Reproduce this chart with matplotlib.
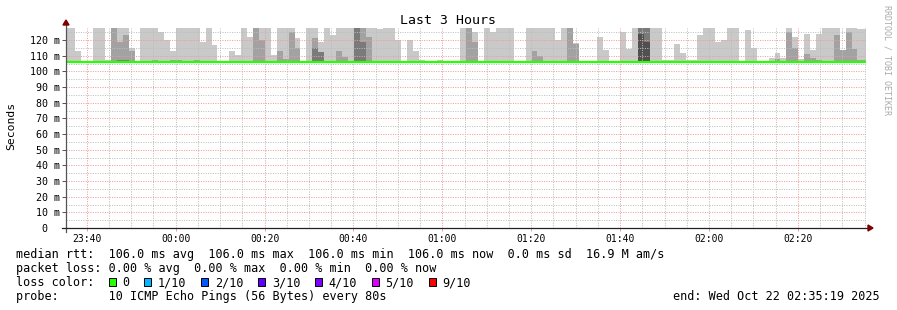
import numpy as np
import matplotlib
matplotlib.use("Agg")
import matplotlib.pyplot as plt
from matplotlib.patches import Rectangle, Polygon

N = None
# ---- data: smoke bands (top value in ms of each grey band, per 80 s step) ----
smoke_light = [
    130, 130, 113, N, N, 130, 130, 107.5, 130, 130,
    130, 115, N, 130, 130, 130, 125, 120, 113, 130,
    130, 130, 130, 119, 130, 117, N, N, 113, 110.5,
    130, 122, 130, 130, 130, 110.5, 130, 130, 130, 121,
    N, 130, 130, 118.5, 130, 123, 130, 130, 130, 130,
    130, 130, 130, 127, 130, 130, 120, N, 120, 113,
    107.5, N, N, 107, N, N, N, 130, 130, 125,
    N, 130, 125.4, 130, 130, 130, N, N, 130, 130,
    130, 130, 130, 120, 130, 130, 118, N, N, N,
    121.9, 113.5, N, N, 125, 114, 130, 130, 130, 130,
    130, 107, 107, 117.6, 112, 107, 107, 123, 130, 130,
    119, 120, 130, 130, N, 126.7, 115, N, 106.5, 108.6,
    111.8, 108.6, 130, 122, 108, 124, 113.8, 124, 130, 130,
    130, 113.8, 130, 130, 127.3, 127.3,
]
smoke_medium = [
    N, N, N, N, N, N, N, N, 130, 119,
    123, 113, N, N, N, 107, N, N, 107, 107,
    N, N, 107, N, N, N, N, N, N, N,
    N, N, 130, 120, N, N, 113, 108, 125, 115,
    N, N, 121, 112.5, N, N, 112.7, 109.5, N, 130,
    130, 122, N, N, N, N, N, N, N, N,
    N, N, N, N, N, N, N, N, 130, 118.5,
    N, N, N, N, N, N, N, N, N, 113,
    110, N, N, N, N, 130, 117.6, N, N, N,
    N, N, N, N, N, N, N, 130, 130, N,
    N, N, N, N, N, N, N, N, N, N,
    N, N, N, N, N, N, N, N, N, N,
    108, N, 125, 115, N, 111, 108.5, 107, N, N,
    123.4, 113.8, 125, 114.4, 107, 107,
]
dark_steps = [9, 10, 42, 43, 49, 50, 97, 98]
dark_values = [107, 107, 115, 112.5, 130, 118.8, 130, 130]
darkest_steps = [97, 98]
darkest_values = [123.7, 118.7]
median_rtt = 106.0

x_tick_labels = ["23:40", "00:00", "00:20", "00:40", "01:00", "01:20", "01:40", "02:00", "02:20"]
y_values = [0, 10, 20, 30, 40, 50, 60, 70, 80, 90, 100, 110, 120]
y_labels = ["0  ", "10 m", "20 m", "30 m", "40 m", "50 m", "60 m", "70 m", "80 m", "90 m",
            "100 m", "110 m", "120 m"]

title = "Last 3 Hours"
y_title = "Seconds"
watermark = "RRDTOOL / TOBI OETIKER"
line_rtt = "median rtt:  106.0 ms avg  106.0 ms max  106.0 ms min  106.0 ms now  0.0 ms sd  16.9 M am/s"
line_loss = "packet loss: 0.00 % avg  0.00 % max  0.00 % min  0.00 % now"
loss_title = "loss color:"
loss_labels = ["0", "1/10", "2/10", "3/10", "4/10", "5/10", "9/10"]
loss_colors = ["#26ff00", "#00b8ff", "#0059ff", "#5e00ff", "#7e00ff", "#dd00ff", "#ff0000"]
line_probe = "probe:       10 ICMP Echo Pings (56 Bytes) every 80s"
end_text = "end: Wed Oct 22 02:35:19 2025"

# ---- layout / scale ----
W, H, DPI = 897, 310, 100
step_s = 80
first_step_start = -35
span_s = 10800
first_label_s = 281
label_every_s = 1200
minor_every_s = 300
y_top = 127.7
MONO = "DejaVu Sans Mono"

fig = plt.figure(figsize=(W / DPI, H / DPI), dpi=DPI)
fig.patch.set_facecolor("white")
L, R, T, B = 66, 866, 28, 228
ax = fig.add_axes([L / W, (H - B) / H, (R - L) / W, (B - T) / H])
ax.set_xlim(0, span_s)
ax.set_ylim(0, y_top)
for s in ax.spines.values():
    s.set_visible(False)


def band(steps, values, color, z):
    xs, hs = [], []
    for st, v in zip(steps, values):
        if v is None:
            continue
        xs.append(first_step_start + st * step_s)
        hs.append(v - median_rtt)
    ax.bar(xs, hs, width=step_s, bottom=median_rtt, align="edge", color=color,
           linewidth=0, antialiased=False, zorder=z)


band(range(len(smoke_light)), smoke_light, "#c9c9c9", 1)
band(range(len(smoke_medium)), smoke_medium, "#a2a2a2", 2)
band(dark_steps, dark_values, "#7a7a7a", 3)
band(darkest_steps, darkest_values, "#505050", 4)

# grid (dotted, 1px on / 1px off)
dot = (0, (1, 1.4))
gcol, mcol = "#bdbdbd", "#f09a9a"
gkw = dict(lw=0.72, ls=dot, zorder=5)
major_x = [first_label_s + i * label_every_s for i in range(len(x_tick_labels))]
strong_x = major_x[::2]
tt = first_label_s % minor_every_s
while tt < span_s:
    if all(abs(tt - m) > 1 for m in strong_x):
        ax.axvline(tt, color=gcol, **gkw)
    tt += minor_every_s
for m in strong_x:
    ax.axvline(m, color=mcol, **gkw)
v = 5
while v < y_top:
    ax.axhline(v, color=(mcol if v % 10 == 0 else gcol), **gkw)
    v += 5

# median line
ax.axhline(median_rtt, color="#26ff00", lw=1.6, zorder=6)

# ticks
ax.set_xticks(major_x)
ax.set_xticklabels(x_tick_labels, fontfamily=MONO, fontsize=7)
ax.tick_params(axis="x", length=2, width=0.72, color=mcol, pad=2.0)
ax.set_yticks(y_values)
ax.set_yticklabels(y_labels, fontfamily=MONO, fontsize=7.2)
ax.tick_params(axis="y", length=3, width=0.72, color="#555555", pad=1.5)

# axes lines with arrows (drawn in axes coordinates)
trans = ax.transAxes
ax.plot([0, 0], [-4 / 200, (B - 24) / 200], color="#555555", lw=0.9, transform=trans, clip_on=False, zorder=7)
ax.plot([-4 / 800, (870 - L) / 800], [0, 0], color="#222222", lw=0.9, transform=trans, clip_on=False, zorder=7)
ax.add_patch(Polygon([[-3 / 800, (B - 25) / 200], [3 / 800, (B - 25) / 200], [0, (B - 20) / 200]],
                     closed=True, color="#7f0000", transform=trans, clip_on=False, zorder=8))
ax.add_patch(Polygon([[(868 - L) / 800, -3 / 200], [(868 - L) / 800, 3 / 200], [(873 - L) / 800, 0]],
                     closed=True, color="#7f0000", transform=trans, clip_on=False, zorder=8))


def fx(px):
    return px / W


def fy(py):
    return 1 - py / H


fig.text(fx(448), fy(20), title, fontfamily=MONO, fontsize=9.5, ha="center", va="center")
fig.text(fx(11), fy(126), y_title, fontfamily=MONO, fontsize=8.2, rotation=90, ha="center", va="center")
fig.text(fx(887), fy(60), watermark, fontfamily=MONO, fontsize=6, rotation=-90, ha="center",
         va="center", color="#aaaaaa")

fs = 8.5
cw = 0.602 * fs * DPI / 72
x0 = 16
base = [258, 272, 286, 300]
fig.text(fx(x0), fy(base[0]), line_rtt, fontfamily=MONO, fontsize=fs, va="baseline")
fig.text(fx(x0), fy(base[1]), line_loss, fontfamily=MONO, fontsize=fs, va="baseline")
fig.text(fx(x0), fy(base[2]), loss_title, fontfamily=MONO, fontsize=fs, va="baseline")
col = 13
for lab, c in zip(loss_labels, loss_colors):
    sx = x0 + col * cw + 0.5
    fig.patches.append(Rectangle((fx(sx), fy(base[2])), 7 / W, 8 / H, facecolor=c,
                                 edgecolor="black", lw=0.7, transform=fig.transFigure, figure=fig))
    fig.text(fx(x0 + (col + 2) * cw), fy(base[2]), lab, fontfamily=MONO, fontsize=fs, va="baseline")
    col += 2 + len(lab) + 2
fig.text(fx(x0), fy(base[3]), line_probe, fontfamily=MONO, fontsize=fs, va="baseline")
fig.text(fx(880), fy(base[3]), end_text, fontfamily=MONO, fontsize=fs, va="baseline", ha="right")

fig.savefig("out.png", dpi=DPI)
